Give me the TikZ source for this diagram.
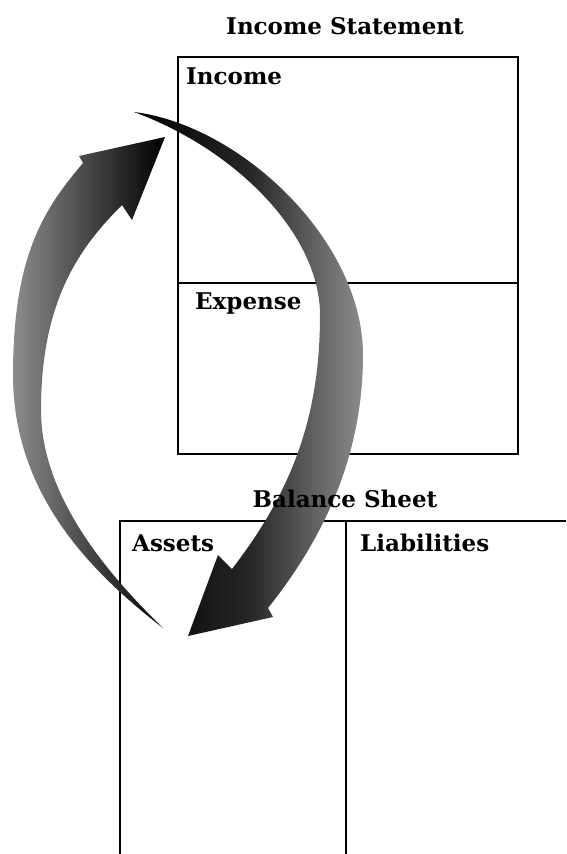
\documentclass[tikz,border=0pt]{standalone}
\usepackage{fontspec}
\setmainfont{DejaVu Serif}
\usepackage{tikz}
\usetikzlibrary{positioning,calc}
\definecolor{ink}{HTML}{000000}
\definecolor{ash}{HTML}{8C8C8C}
\tikzset{
  panelbox/.style={
    rectangle, draw=ink, line width=1.8pt,
    anchor=north west, inner sep=0pt
  },
  panelrule/.style={draw=ink, line width=1.8pt},
  headlabel/.style={
    font=\fontsize{23}{27}\selectfont\bfseries,
    inner sep=0pt, anchor=base
  },
  celllabel/.style={
    font=\fontsize{23}{27}\selectfont\bfseries,
    inner sep=0pt, anchor=base west
  },
}

\begin{document}
\begin{tikzpicture}[x=1pt, y=-1pt]
  \useasboundingbox (0,0) rectangle (566,854);
  % income statement
  \node[panelbox, minimum width=340pt, minimum height=226pt] (income) at (177,56) {};
  \node[panelbox, minimum width=340pt, minimum height=171pt] (expense) at (177,282) {};
  % balance sheet (runs off the page)
  \coordinate (bscorner) at (120,521);
  \coordinate (bsmid) at (346,521);
  \draw[panelrule] (bscorner |- 0,854) -- (bscorner) -- (566,521);
  \draw[panelrule] (bsmid) -- (bsmid |- 0,854);
  % income -> assets
  \coordinate (rtail) at (134,112);
  \coordinate (rtip) at (188,636);
  \shade[left color=ink, right color=ash, middle color=ink!85]
    (rtail) .. controls (240,125) and (363,240) .. (363,355)
    .. controls (363,455) and (324,538) .. (268,608)
    -- (273,617) -- (rtip) -- (218,555) -- (232,569)
    .. controls (293,490) and (320,415) .. (320,315)
    .. controls (320,235) and (237,150) .. (rtail) -- cycle;
  % assets -> income
  \coordinate (ltail) at (163,628);
  \coordinate (ltip) at (165,137);
  \shade[left color=ash, right color=ink]
    (ltail) .. controls (92,573) and (13,495) .. (13,375)
    .. controls (13,255) and (44,209) .. (83,163)
    -- (79,156) -- (ltip) -- (132,220) -- (122,205)
    .. controls (80,247) and (41,300) .. (41,410)
    .. controls (41,490) and (98,565) .. (ltail) -- cycle;
  % labels
  \node[headlabel] (istitle) at (345,34) {Income Statement};
  \node[celllabel] (inclabel) at (186,84) {Income};
  \node[celllabel] (explabel) at (195,309) {Expense};
  \node[headlabel] (bstitle) at (345,507) {Balance Sheet};
  \node[celllabel] (astlabel) at (132,551) {Assets};
  \node[celllabel] (liablabel) at (360,551) {Liabilities};
\end{tikzpicture}
\end{document}
